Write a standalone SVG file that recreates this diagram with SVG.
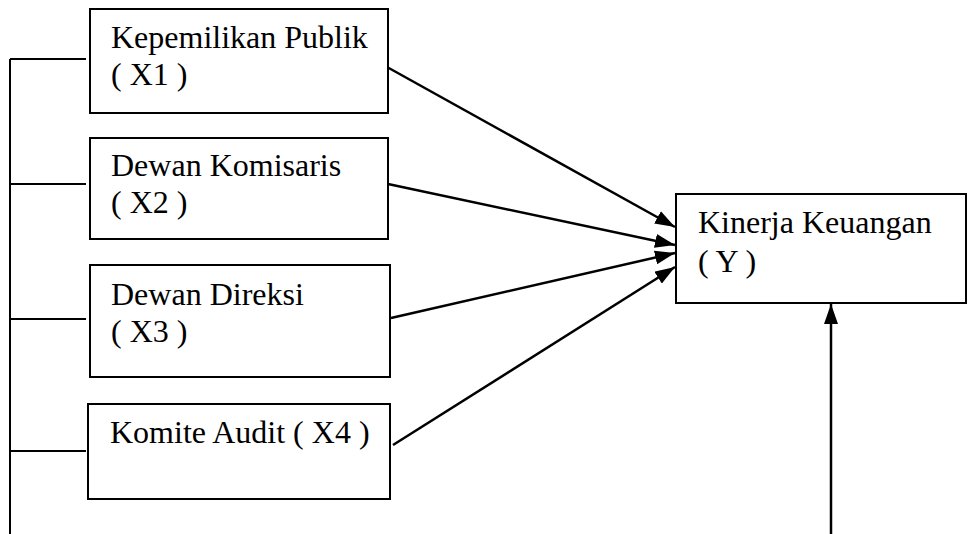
<svg xmlns="http://www.w3.org/2000/svg" width="968" height="534" viewBox="0 0 968 534">
<style>
.box{fill:#fff;stroke:#000;stroke-width:2}
.t{font-family:"Liberation Serif","Times New Roman",serif;font-size:32px;fill:#000}
.ln{stroke:#000;stroke-width:2;fill:none}
.ar{stroke:#000;stroke-width:2.5;fill:none;marker-end:url(#ah)}
</style>
<defs>
<marker id="ah" markerUnits="userSpaceOnUse" markerWidth="20" markerHeight="14" refX="20" refY="7" orient="auto">
<path d="M0,0 L20,7 L0,14 z" fill="#000"/>
</marker>
</defs>
<rect width="968" height="534" fill="#fff"/>
<g id="connectors">
<path class="ln" d="M10,59 V534"/>
<path class="ln" d="M10,59 H86 M10,184 H86 M10,319 H86 M10,451 H86"/>
<line class="ar" x1="387" y1="67" x2="675" y2="227"/>
<line class="ar" x1="388" y1="184" x2="675" y2="245"/>
<line class="ar" x1="391" y1="318" x2="675" y2="253"/>
<line class="ar" x1="393" y1="445" x2="675" y2="267"/>
<line class="ar" x1="831" y1="534" x2="831" y2="304"/>
</g>
<g id="x1">
<rect class="box" x="90" y="9" width="298" height="104"/>
<text class="t" x="111" y="48">Kepemilikan Publik</text>
<text class="t" x="111" y="85">( X1 )</text>
</g>
<g id="x2">
<rect class="box" x="90" y="138" width="298" height="101"/>
<text class="t" x="111" y="176">Dewan Komisaris</text>
<text class="t" x="111" y="213">( X2 )</text>
</g>
<g id="x3">
<rect class="box" x="90" y="265" width="300" height="112"/>
<text class="t" x="111" y="305">Dewan Direksi</text>
<text class="t" x="111" y="342">( X3 )</text>
</g>
<g id="x4">
<rect class="box" x="88" y="404" width="302" height="95"/>
<text class="t" x="110" y="443">Komite Audit ( X4 )</text>
</g>
<g id="y">
<rect class="box" x="676" y="194" width="290" height="109"/>
<text class="t" x="698" y="233">Kinerja Keuangan</text>
<text class="t" x="698" y="272">( Y )</text>
</g>
</svg>
